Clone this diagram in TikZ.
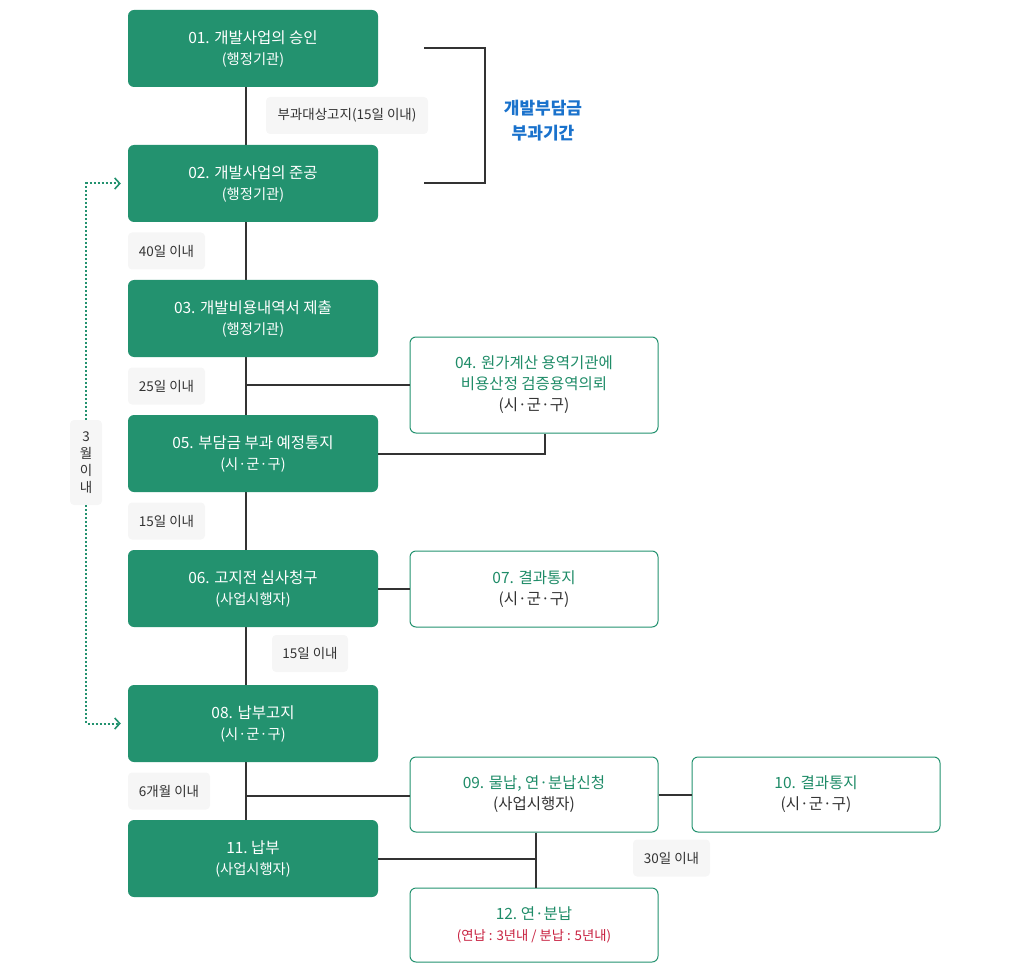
\documentclass[tikz,border=0pt]{standalone}
\usepackage{fontspec}
\setmainfont{Noto Sans CJK KR}
\usetikzlibrary{arrows.meta,backgrounds}
\definecolor{gbox}{HTML}{23926F}
\definecolor{gtext}{HTML}{1F8C68}
\definecolor{dk}{HTML}{333333}
\definecolor{lbg}{HTML}{F6F6F6}
\definecolor{bl}{HTML}{1A72CC}
\definecolor{rd}{HTML}{C8203F}
\tikzset{
  gstep/.style={fill=gbox, draw=none, rounded corners=6pt, minimum width=250pt, minimum height=77pt, text=white, align=center, font=\fontsize{15.5}{21}\selectfont, inner sep=0pt},
  wstep/.style={fill=white, draw=gbox, line width=1pt, rounded corners=6pt, minimum width=248pt, text=dk, align=center, font=\fontsize{15.5}{21}\selectfont, inner sep=0pt},
  tag/.style={fill=lbg, rounded corners=4pt, text=dk, font=\fontsize{13.5}{16}\selectfont, inner sep=0pt, minimum height=37pt},
  conn/.style={draw=dk, line width=2pt},
  dotarrow/.style={draw=gbox, line width=2pt, dash pattern=on 2pt off 2pt, -{Straight Barb[length=5pt,width=11pt,line width=1.6pt]}},
}
\newcommand{\sm}{\fontsize{14.3}{21}\selectfont}
\begin{document}
\begin{tikzpicture}[x=1pt,y=-1pt]
\useasboundingbox (0,0) rectangle (1024,973);
\coordinate (tk) at (246,0);
% green steps
\node[gstep] (n01) at (253,48.5) {01. 개발사업의 승인\\{\sm(행정기관)}};
\node[gstep] (n02) at (253,183.5) {02. 개발사업의 준공\\{\sm(행정기관)}};
\node[gstep] (n03) at (253,318.5) {03. 개발비용내역서 제출\\{\sm(행정기관)}};
\node[gstep] (n05) at (253,453.5) {05. 부담금 부과 예정통지\\{\sm(시·군·구)}};
\node[gstep] (n06) at (253,588.5) {06. 고지전 심사청구\\{\sm(사업시행자)}};
\node[gstep] (n08) at (253,723.5) {08. 납부고지\\{\sm(시·군·구)}};
\node[gstep] (n11) at (253,858.5) {11.\ 납부\\{\sm(사업시행자)}};
% white steps
\node[wstep, minimum height=96pt] (n04) at (534,385) {{\color{gtext}04. 원가계산 용역기관에}\\{\color{gtext}비용산정 검증용역의뢰}\\(시·군·구)};
\node[wstep, minimum height=76pt] (n07) at (534,589) {{\color{gtext}07. 결과통지}\\(시·군·구)};
\node[wstep, minimum height=75pt] (n09) at (534,794.5) {{\color{gtext}09. 물납, 연·분납신청}\\(사업시행자)};
\node[wstep, minimum height=75pt] (n10) at (816,794.5) {{\color{gtext}10. 결과통지}\\(시·군·구)};
\node[wstep, minimum height=74pt] (n12) at (534,925) {{\color{gtext}12.\ 연·분납}\\{\color{rd}\fontsize{13.3}{21}\selectfont(연납 : 3년내 / 분납 : 5년내)}};
\coordinate (vj) at ([xshift=2pt]n12.north);
% tags
\node[tag, minimum width=162pt] (t1) at (347,115.5) {부과대상고지(15일 이내)};
\node[tag, minimum width=77pt] (t2) at (166.5,251) {40일 이내};
\node[tag, minimum width=77pt] (t3) at (166.5,386) {25일 이내};
\node[tag, minimum width=77pt] (t4) at (166.5,521) {15일 이내};
\node[tag, minimum width=76pt] (t5) at (310,653.5) {15일 이내};
\node[tag, minimum width=82pt] (t6) at (169,791) {6개월 이내};
\node[tag, minimum width=77pt] (t7) at (671.5,858) {30일 이내};
\node[tag, minimum width=32pt, minimum height=85pt, align=center, font=\fontsize{13.5}{17}\selectfont] (t8) at (86,462.5) {3\\월\\이\\내};
% period bracket
\coordinate (b1) at (424,48);
\coordinate (b2) at (485,48);
\coordinate (b3) at (485,183);
\coordinate (b4) at (424,183);
\draw[conn] (b1) -- (b2) -- (b3) -- (b4);
\node[text=bl, align=center, font=\fontsize{17}{25}\selectfont\bfseries] (per) at (543,120.5) {개발부담금\\부과기간};
% connectors
\begin{scope}[on background layer]
\draw[conn] (n01.south -| tk) -- (n11.north -| tk);
\end{scope}
\draw[conn] (n04.west) -- (n04.west -| tk);
\draw[conn] (n05.east) -| ([xshift=11pt]n04.south);
\draw[conn] (n06.east) -- (n06.east -| n07.west);
\draw[conn] ([yshift=-1pt]n09.west) -- ([yshift=-1pt]n09.west -| tk);
\draw[conn] (n09.east) -- (n10.west);
\draw[conn] ([xshift=2pt]n09.south) -- (vj);
\draw[conn] (n11.east) -- (n11.east -| vj);
% dotted period arrows
\draw[dotarrow] (t8.north) |- ([xshift=-7pt]n02.west);
\draw[dotarrow] (t8.south) |- ([xshift=-7pt]n08.west);
\end{tikzpicture}
\end{document}
